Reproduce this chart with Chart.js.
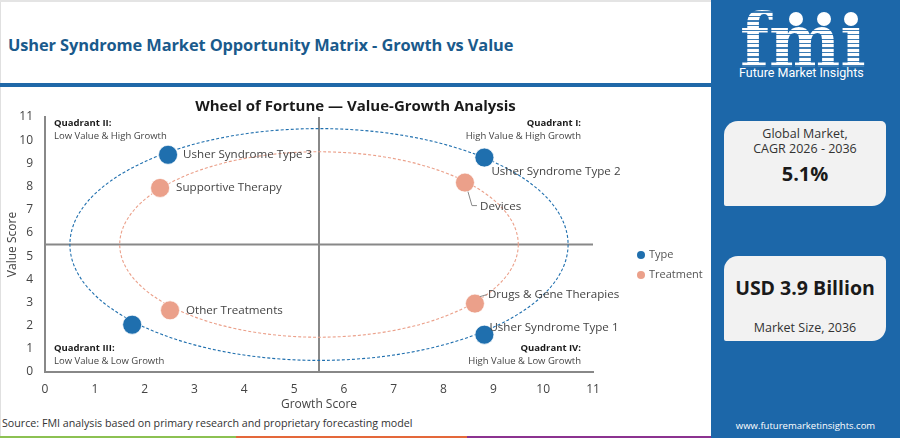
<!DOCTYPE html>
<html><head><meta charset="utf-8">
<script src="https://cdn.jsdelivr.net/npm/chart.js@4.4.0/dist/chart.umd.min.js"></script>
<style>
html,body{margin:0;padding:0;width:900px;height:438px;overflow:hidden;background:#fff;font-family:"Open Sans",sans-serif;}
#page{position:relative;width:900px;height:438px;border-top:2px solid #e4e4e4;box-sizing:border-box;}
#title{position:absolute;left:8px;top:31px;font-size:16.4px;font-weight:700;color:#1a5a8c;white-space:nowrap;letter-spacing:-0.1px;}
#rule{position:absolute;left:0;top:81px;width:711px;height:4px;background:#1f68a8;}
#leftedge{position:absolute;left:0;top:0;width:1px;height:438px;background:#e0e0e0;}
#c{position:absolute;left:0;top:86px;}
#source{position:absolute;left:2px;top:414px;font-size:10.7px;color:#333;white-space:nowrap;}
#bar{position:absolute;left:0;top:434px;width:711px;height:4px;display:flex;}
#bar div{height:4px;}
#panel{position:absolute;left:711px;top:-2px;width:189px;height:440px;background:#1c67a9;overflow:hidden;}
#logo{position:absolute;left:29px;top:4px;font-family:"DejaVu Serif",serif;font-weight:700;font-size:74px;line-height:1;
 background:repeating-linear-gradient(to bottom,#fff 0px,#fff 3px,rgba(255,255,255,0.15) 3px,rgba(255,255,255,0.15) 4.5px);
 -webkit-background-clip:text;background-clip:text;color:transparent;transform:scaleX(0.91);transform-origin:left top;}
.dot{position:absolute;width:14px;height:14px;border-radius:50%;background:#fff;top:12px;}
#fmitext{position:absolute;left:28px;top:65px;font-family:Roboto,sans-serif;font-size:12.5px;color:#fff;white-space:nowrap;}
.card{position:absolute;left:13px;width:162px;height:85px;background:#f2f2f2;border-radius:14px 5px 14px 2px;text-align:center;color:#333;}
.card .s{font-size:12.5px;line-height:15px;}
.card .b{font-weight:700;color:#1a1a1a;}
#url{position:absolute;left:0;width:189px;top:419px;text-align:center;font-size:9.5px;color:#fff;}
</style></head>
<body>
<div id="page">
 <div id="leftedge"></div>
 <div id="title">Usher Syndrome Market Opportunity Matrix - Growth vs Value</div>
 <div id="rule"></div>
 <canvas id="c" width="711" height="328"></canvas>
 <div id="source">Source: FMI analysis based on primary research and proprietary forecasting model</div>
 <div id="bar"><div style="width:236px;background:#8cc152"></div><div style="width:231px;background:#e4683a"></div><div style="width:244px;background:#8c3390"></div></div>
 <div id="panel">
  <div id="logo">fmı</div>
  <div class="dot" style="left:78px"></div>
  <div class="dot" style="left:106px"></div>
  <div class="dot" style="left:133px"></div>
  <div id="fmitext">Future Market Insights</div>
  <div class="card" style="top:121px">
   <div class="s" style="margin-top:5px">Global Market,</div>
   <div class="s">CAGR 2026 - 2036</div>
   <div class="b" style="font-size:20px;margin-top:4px">5.1%</div>
  </div>
  <div class="card" style="top:256px">
   <div class="b" style="font-size:19.5px;margin-top:18px">USD 3.9 Billion</div>
   <div class="s" style="margin-top:19px">Market Size, 2036</div>
  </div>
  <div id="url">www.futuremarketinsights.com</div>
 </div>
</div>
<script>
// ---- data ----
const seriesNames = ["Type", "Treatment"];
const typeNames = ["Usher Syndrome Type 3", "Usher Syndrome Type 2", "Usher Syndrome Type 1", ""];
const typeGrowth = [2.47, 8.82, 8.82, 1.75];
const typeValue = [9.37, 9.25, 1.61, 2.04];
const treatmentNames = ["Supportive Therapy", "Devices", "Drugs & Gene Therapies", "Other Treatments"];
const treatmentGrowth = [2.31, 8.43, 8.63, 2.51];
const treatmentValue = [7.94, 8.17, 2.95, 2.66];
const axisTicks = [0, 1, 2, 3, 4, 5, 6, 7, 8, 9, 10, 11];
const quadrantSplit = [5.5, 5.5];
const ringCenter = [5.5, 5.5];
const ringRadius = [5, 4];
const quadrantTitles = ["Quadrant I:", "Quadrant II:", "Quadrant III:", "Quadrant IV:"];
const quadrantSubtitles = ["High Value & High Growth", "Low Value & High Growth", "Low Value & Low Growth", "High Value & Low Growth"];
const chartTitle = "Wheel of Fortune \u2014 Value-Growth Analysis";

// ---- styles ----
const colors = ["#1f6fae", "#eba08a"];
const FONT = '"Open Sans", sans-serif';
const labelOffsets = [
  [[15, 0], [7, 14], [5, -7], null],
  [[16, 0], [15, 24], [13, -9], [16, 0]]
];
const leaders = [
  [null, null, null, null],
  [null, [[3, 9], [7, 23], [12, 23]], [[5, -7], [12, -9]], null]
];

const mk = (xs, ys) => xs.map((x, i) => ({x: x, y: ys[i]}));
const names = [typeNames, treatmentNames];

const overlay = {
  id: 'overlay',
  beforeDatasetsDraw(chart) {
    const {ctx, chartArea: a, scales: {x, y}} = chart;
    ctx.save();
    // quadrant dividers
    ctx.strokeStyle = '#888'; ctx.lineWidth = 2;
    const vx = x.getPixelForValue(quadrantSplit[0]);
    const hy = y.getPixelForValue(quadrantSplit[1]);
    ctx.beginPath(); ctx.moveTo(vx, a.top); ctx.lineTo(vx, a.bottom); ctx.stroke();
    ctx.beginPath(); ctx.moveTo(a.left, hy); ctx.lineTo(a.right, hy); ctx.stroke();
    // rings
    const cx = x.getPixelForValue(ringCenter[0]);
    const cy = y.getPixelForValue(ringCenter[1]);
    ringRadius.forEach((r, i) => {
      const rx = x.getPixelForValue(ringCenter[0] + r) - cx;
      const ry = cy - y.getPixelForValue(ringCenter[1] + r);
      ctx.beginPath();
      ctx.setLineDash([3, 2]);
      ctx.lineWidth = 1.1;
      ctx.strokeStyle = colors[i];
      ctx.ellipse(cx, cy, rx, ry, 0, 0, Math.PI * 2);
      ctx.stroke();
    });
    ctx.setLineDash([]);
    // quadrant labels
    const pos = [
      [a.right - 12, a.top + 6, 'right'],
      [a.left + 9, a.top + 6, 'left'],
      [a.left + 9, a.bottom - 24, 'left'],
      [a.right - 12, a.bottom - 24, 'right']
    ];
    ctx.textBaseline = 'middle';
    pos.forEach((p, i) => {
      ctx.textAlign = p[2];
      ctx.fillStyle = '#1a1a1a';
      ctx.font = '700 9.5px ' + FONT;
      ctx.fillText(quadrantTitles[i], p[0], p[1]);
      ctx.fillStyle = '#444';
      ctx.font = '9.5px ' + FONT;
      ctx.fillText(quadrantSubtitles[i], p[0], p[1] + 13);
    });
    // chart title
    ctx.textAlign = 'center';
    ctx.fillStyle = '#1a1a1a';
    ctx.font = '700 15px ' + FONT;
    ctx.fillText(chartTitle, chart.width / 2, 19);
    // legend
    ctx.textAlign = 'left';
    ctx.font = '11px ' + FONT;
    seriesNames.forEach((n, i) => {
      const ly = 167 + i * 20;
      ctx.fillStyle = colors[i];
      ctx.beginPath(); ctx.arc(641, ly, 4, 0, Math.PI * 2); ctx.fill();
      ctx.fillStyle = '#555';
      ctx.fillText(n, 649, ly);
    });
    ctx.restore();
  },
  afterDatasetsDraw(chart) {
    const {ctx} = chart;
    ctx.save();
    ctx.font = '11.6px ' + FONT;
    ctx.textBaseline = 'middle';
    ctx.textAlign = 'left';
    chart.data.datasets.forEach((ds, di) => {
      const meta = chart.getDatasetMeta(di);
      meta.data.forEach((pt, i) => {
        const label = names[di][i];
        const off = labelOffsets[di][i];
        if (!label || !off) return;
        const ld = leaders[di][i];
        if (ld) {
          ctx.strokeStyle = '#888'; ctx.lineWidth = 1;
          ctx.beginPath();
          ld.forEach((q, k) => k ? ctx.lineTo(pt.x + q[0], pt.y + q[1]) : ctx.moveTo(pt.x + q[0], pt.y + q[1]));
          ctx.stroke();
        }
        ctx.fillStyle = '#444';
        ctx.fillText(label, pt.x + off[0], pt.y + off[1]);
      });
    });
    ctx.restore();
  }
};

new Chart(document.getElementById('c'), {
  type: 'scatter',
  data: {
    datasets: [
      {label: seriesNames[0], data: mk(typeGrowth, typeValue), backgroundColor: colors[0], borderColor: 'rgba(255,255,255,0.7)', borderWidth: 1, pointRadius: 9.5},
      {label: seriesNames[1], data: mk(treatmentGrowth, treatmentValue), backgroundColor: colors[1], borderColor: 'rgba(255,255,255,0.7)', borderWidth: 1, pointRadius: 9.5}
    ]
  },
  options: {
    responsive: false,
    animation: false,
    events: [],
    layout: {padding: {top: 29, right: 118, left: 0, bottom: 0}},
    plugins: {legend: {display: false}, tooltip: {enabled: false}, title: {display: false}},
    scales: {
      x: {
        type: 'linear', min: 0, max: 11,
        afterBuildTicks: s => { s.ticks = axisTicks.map(v => ({value: v})); },
        afterFit: s => { s.height = 44; },
        grid: {display: false, drawTicks: false, tickLength: 0},
        border: {display: true, color: '#888', width: 2},
        ticks: {padding: 10, color: '#444', font: {family: FONT, size: 12}, autoSkip: false, maxRotation: 0},
        title: {display: true, text: 'Growth Score', color: '#444', font: {family: FONT, size: 12}, padding: {top: 4, bottom: 4}}
      },
      y: {
        type: 'linear', min: 0, max: 11,
        afterBuildTicks: s => { s.ticks = axisTicks.map(v => ({value: v})); },
        afterFit: s => { s.width = 45; },
        grid: {display: false, drawTicks: false, tickLength: 0},
        border: {display: true, color: '#888', width: 2},
        ticks: {padding: 12, color: '#444', font: {family: FONT, size: 12}, autoSkip: false},
        title: {display: true, text: 'Value Score', color: '#444', font: {family: FONT, size: 12}, padding: {top: 5, bottom: 4}}
      }
    }
  },
  plugins: [overlay]
});
</script>
</body></html>
